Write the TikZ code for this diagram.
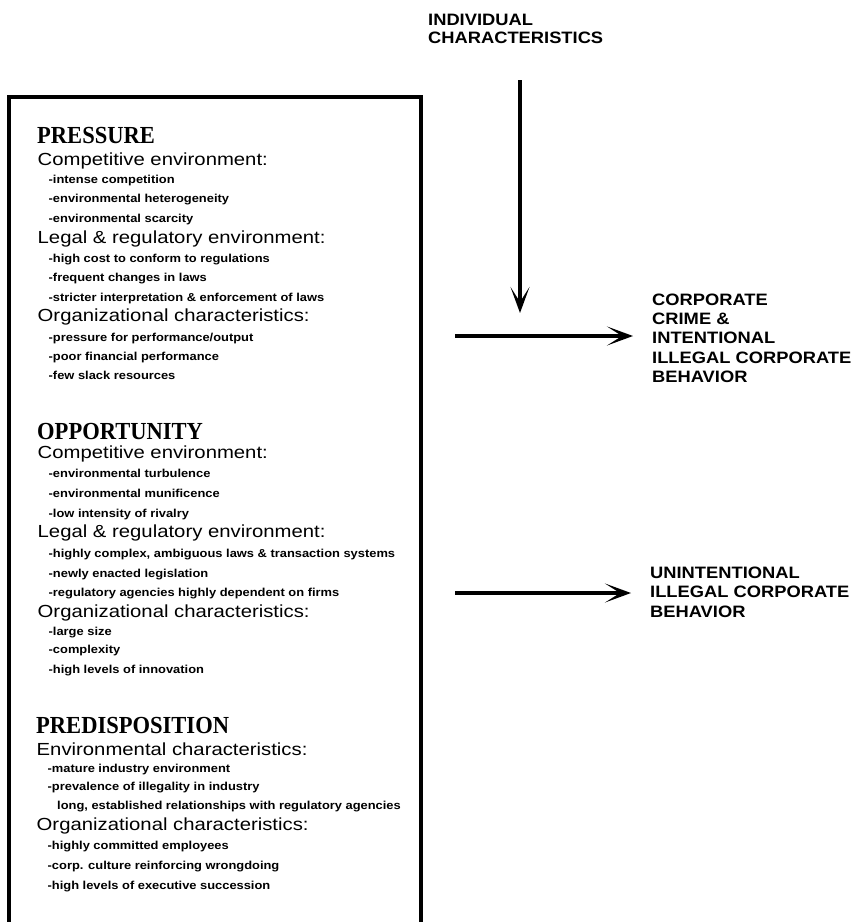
\documentclass[tikz,border=0pt]{standalone}
\usepackage{fontspec}
\setmainfont{Liberation Sans}
\newfontfamily\titlefont[FakeStretch=0.92]{Liberation Serif}
\newfontfamily\headfont[FakeStretch=1.16]{Liberation Sans}
\newfontfamily\itemfont[FakeStretch=1.12]{Liberation Sans}
\newfontfamily\labfont[FakeStretch=1.11]{Liberation Sans}
\usetikzlibrary{arrows.meta}
\tikzset{
  sectitle/.style={anchor=base west, inner sep=0pt, font=\titlefont\bfseries\fontsize{24.5bp}{26bp}\selectfont},
  subhead/.style={anchor=base west, inner sep=0pt, font=\headfont\fontsize{17.5bp}{19bp}\selectfont},
  bullet/.style={anchor=base west, inner sep=0pt, font=\itemfont\bfseries\fontsize{11.5bp}{13bp}\selectfont},
  outlab/.style={anchor=base west, inner sep=0pt, font=\labfont\bfseries\fontsize{16.5bp}{19bp}\selectfont},
  framebox/.style={line width=4bp, line cap=butt, line join=miter},
  flow/.style={line width=4.3bp, -{Stealth[length=26bp,width=19bp,inset=15bp]}}
}
\begin{document}
\begin{tikzpicture}[x=1bp,y=-1bp]
\useasboundingbox[fill=white] (0,0) rectangle (859,922);
% frame (bottom edge lies beyond the page)
\draw[framebox] (9,922) -- (9,97) -- (421,97) -- (421,922);

% PRESSURE
\node[sectitle] (t1) at (37,143) {PRESSURE};
\node[subhead] (h11) at (37.5,165) {Competitive environment:};
\node[bullet] (i111) at (48.5,183) {-intense competition};
\node[bullet] (i112) at (48.5,202) {-environmental heterogeneity};
\node[bullet] (i113) at (48.5,222) {-environmental scarcity};
\node[subhead] (h12) at (37.5,243) {Legal \& regulatory environment:};
\node[bullet] (i121) at (48.5,262) {-high cost to conform to regulations};
\node[bullet] (i122) at (48.5,281) {-frequent changes in laws};
\node[bullet] (i123) at (48.5,301) {-stricter interpretation \& enforcement of laws};
\node[subhead] (h13) at (37.5,321) {Organizational characteristics:};
\node[bullet] (i131) at (48.5,341) {-pressure for performance/output};
\node[bullet] (i132) at (48.5,360) {-poor financial performance};
\node[bullet] (i133) at (48.5,379) {-few slack resources};

% OPPORTUNITY
\node[sectitle] (t2) at (37,439) {OPPORTUNITY};
\node[subhead] (h21) at (37.5,458) {Competitive environment:};
\node[bullet] (i211) at (48.5,477) {-environmental turbulence};
\node[bullet] (i212) at (48.5,497) {-environmental munificence};
\node[bullet] (i213) at (48.5,517) {-low intensity of rivalry};
\node[subhead] (h22) at (37.5,537) {Legal \& regulatory environment:};
\node[bullet] (i221) at (48.5,557) {-highly complex, ambiguous laws \& transaction systems};
\node[bullet] (i222) at (48.5,577) {-newly enacted legislation};
\node[bullet] (i223) at (48.5,596) {-regulatory agencies highly dependent on firms};
\node[subhead] (h23) at (37.5,617) {Organizational characteristics:};
\node[bullet] (i231) at (48.5,635) {-large size};
\node[bullet] (i232) at (48.5,653) {-complexity};
\node[bullet] (i233) at (48.5,673) {-high levels of innovation};

% PREDISPOSITION
\node[sectitle] (t3) at (36,733) {PREDISPOSITION};
\node[subhead] (h31) at (36.5,755) {Environmental characteristics:};
\node[bullet] (i311) at (47.5,772) {-mature industry environment};
\node[bullet] (i312) at (47.5,790) {-prevalence of illegality in industry};
\node[bullet] (i313) at (57,809) {long, established relationships with regulatory agencies};
\node[subhead] (h32) at (36.5,830) {Organizational characteristics:};
\node[bullet] (i321) at (47.5,849) {-highly committed employees};
\node[bullet] (i322) at (47.5,869) {-corp. culture reinforcing wrongdoing};
\node[bullet] (i323) at (47.5,889) {-high levels of executive succession};

% right side labels
\node[outlab] (ind1) at (428,25) {INDIVIDUAL};
\node[outlab] (ind2) at (428,43) {CHARACTERISTICS};

\node[outlab] (c1) at (652,305) {CORPORATE};
\node[outlab] (c2) at (652,324) {CRIME \&};
\node[outlab] (c3) at (652,343) {INTENTIONAL};
\node[outlab] (c4) at (652,363) {ILLEGAL CORPORATE};
\node[outlab] (c5) at (652,382) {BEHAVIOR};

\node[outlab] (u1) at (650,578) {UNINTENTIONAL};
\node[outlab] (u2) at (650,597.5) {ILLEGAL CORPORATE};
\node[outlab] (u3) at (650,617) {BEHAVIOR};

% connectors
\coordinate (vs) at (520,80);
\coordinate (ve) at (520,313);
\coordinate (a1s) at (455,336);
\coordinate (a1e) at (633,336);
\coordinate (a2s) at (455,593);
\coordinate (a2e) at (631,593);
\draw[flow] (vs) -- (ve);
\draw[flow] (a1s) -- (a1e);
\draw[flow] (a2s) -- (a2e);
\end{tikzpicture}
\end{document}
